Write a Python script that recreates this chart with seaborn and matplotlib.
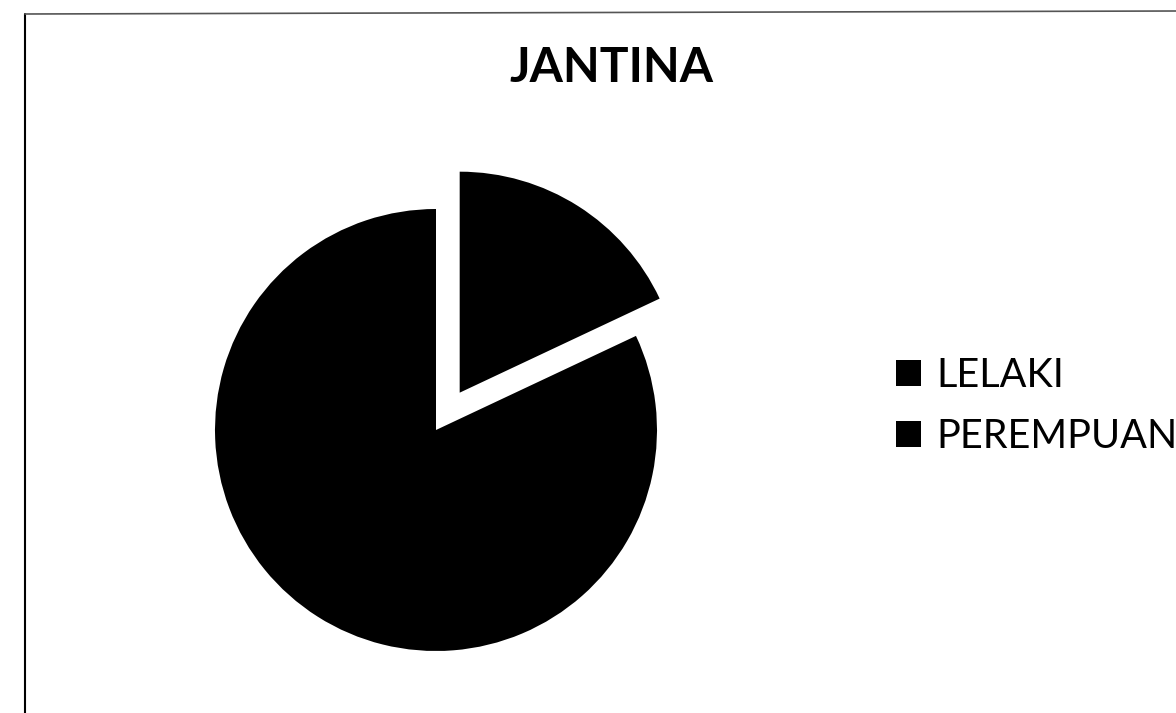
import matplotlib
matplotlib.use("Agg")
import matplotlib.pyplot as plt
from matplotlib.lines import Line2D
import seaborn as sns

# Data
categories = ["LELAKI", "PEREMPUAN"]
values = [18, 82]
title = "JANTINA"

sns.set_theme(style="white")
plt.rcParams['font.family'] = ['Lato', 'DejaVu Sans']
plt.rcParams['text.color'] = 'black'
plt.rcParams['legend.labelcolor'] = 'black'

W, H = 1176, 713
fig = plt.figure(figsize=(W / 100, H / 100), dpi=100)
fig.patch.set_facecolor("white")

def px_axes(left, top, right, bottom):
    return [left / W, 1 - bottom / H, (right - left) / W, (bottom - top) / H]

# pie centre ~ (436, 430), radius ~221 px
cx, cy, r, k = 436, 430, 221, 1.25
ax = fig.add_axes(px_axes(cx - r * k, cy - r * k, cx + r * k, cy + r * k))
colors = ["black", "black"]
wedges, _ = ax.pie(values, colors=colors, startangle=90, counterclock=False,
                   explode=[0.2, 0.0], wedgeprops={"linewidth": 0})
ax.set_aspect("auto")
ax.set_xlim(-k, k)
ax.set_ylim(-k, k)
ax.axis("off")

fig.text(611 / W, 1 - 68 / H, title, ha="center", va="center",
         fontsize=34.5, fontweight="bold", color="black")

leg = fig.legend(wedges, categories, loc="upper left",
                 bbox_to_anchor=(896 / W, 1 - 357 / H), frameon=False,
                 fontsize=28.5, handlelength=0.62, handleheight=0.62,
                 handletextpad=0.4, labelspacing=0.6, borderpad=0,
                 borderaxespad=0, labelcolor="black")

# frame lines of the scanned chart area
fig.add_artist(Line2D([25 / W, 25 / W], [0, 1 - 14 / H], color="black", lw=1.5,
                      transform=fig.transFigure))
fig.add_artist(Line2D([25 / W, 1], [1 - 14 / H, 1 - 11 / H], color="#555555", lw=1.2,
                      transform=fig.transFigure))

fig.savefig("out.png", dpi=100, facecolor="white")
